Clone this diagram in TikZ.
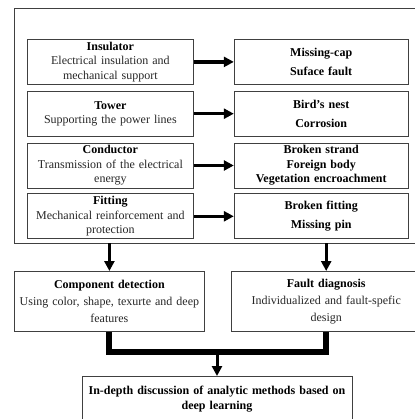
\documentclass[tikz,border=0pt]{standalone}
\usepackage{fontspec}
\setmainfont{Liberation Serif}
\usetikzlibrary{positioning,fit,arrows.meta}

\begin{document}
\begin{tikzpicture}[x=1pt, y=-1pt,
    part/.style = {draw=black!75, line width=0.8pt, text width=162pt, minimum height=45pt,
        inner sep=2pt, align=center, text=black!85, font=\fontsize{12}{14.5}\selectfont},
    defect/.style = {part, text width=170pt, text=black},
    task/.style = {part, text width=186pt, minimum height=60pt, font=\fontsize{12}{17}\selectfont},
    arr/.style = {line width=3.5pt, -{Triangle[length=10pt,width=10pt]}},
    bus/.style = {line width=6pt, line join=miter}]
    \useasboundingbox (0,0) rectangle (414,419);
    \node[part, anchor=north west] (c1) at (27,39) {\textcolor{black}{\textbf{Insulator}}\\Electrical insulation and\\mechanical support};
    \node[part, below=6pt of c1] (c2) {\textcolor{black}{\textbf{Tower}}\\Supporting the power lines};
    \node[part, below=6pt of c2] (c3) {\textcolor{black}{\textbf{Conductor}}\\Transmission of the electrical\\energy};
    \node[part, below=5pt of c3] (c4) {\textcolor{black}{\textbf{Fitting}}\\Mechanical reinforcement and\\protection};
    \node[defect, right=40pt of c1] (f1) {\textbf{Missing-cap}\\[4pt]\textbf{Suface fault}};
    \node[defect, right=40pt of c2] (f2) {\textbf{Bird's nest}\\[4pt]\textbf{Corrosion}};
    \node[defect, right=40pt of c3] (f3) {\textbf{Broken strand}\\\textbf{Foreign body}\\\textbf{Vegetation encroachment}};
    \node[defect, right=40pt of c4] (f4) {\textbf{Broken fitting}\\[5pt]\textbf{Missing pin}};
    \node[draw=black!75, line width=0.8pt, inner sep=0pt, fit={(14,8) (416,243)}] (frame) {};
    \draw[arr] (c1) -- (f1);
    \draw[arr] (c2) -- (f2);
    \draw[arr] (c3) -- (f3);
    \draw[arr] (c4) -- (f4);
    \node[task, anchor=north west] (det) at (14,271) {\textcolor{black}{\textbf{Component detection}}\\Using color, shape, texurte and deep\\features};
    \node[task, right=26pt of det] (diag) {\textcolor{black}{\textbf{Fault diagnosis}}\\Individualized and fault-spefic\\design};
    \draw[arr, line width=3pt] (frame.south -| det.north) -- (det.north);
    \draw[arr, line width=3pt] (frame.south -| diag.north) -- (diag.north);
    \coordinate (join) at (217,352);
    \draw[bus] (det.south) |- (join) -| (diag.south);
    \node[part, text width=266pt, minimum height=46pt, text=black, font=\fontsize{12}{15}\selectfont\bfseries,
        anchor=north] (res) at (217,376) {In-depth discussion of analytic methods based on\\deep learning};
    \draw[arr, line width=3pt] (join) -- (res.north);
\end{tikzpicture}
\end{document}
